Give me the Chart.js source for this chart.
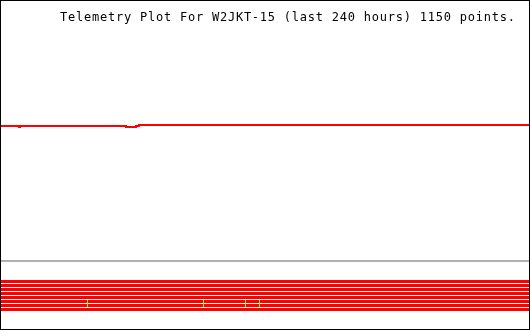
<!DOCTYPE html>
<html>
<head>
<meta charset="utf-8">
<script src="https://cdn.jsdelivr.net/npm/chart.js@4/dist/chart.umd.min.js"></script>
<style>
  html, body { margin: 0; padding: 0; background: #fff; }
  canvas { display: block; }
</style>
</head>
<body>
<canvas id="telemetry-chart" width="530" height="330"></canvas>
<script>
// x axis: hours into the 240 hour window, y axis: telemetry units
const titleText = 'Telemetry Plot For W2JKT-15 (last 240 hours) 1150 points.';

// main telemetry trace (stepped)
const traceHours  = [0, 8.6, 9.06, 57.06, 61.6, 62.9, 240];
const traceValues = [68.0, 67.67, 68.0, 67.67, 68.0, 68.33, 68.33];

// grey separator level
const separatorLevel = 23.0;

// channel bits band, one flat line per channel
const bitLevels = [16.17, 14.83, 13.5, 12.17, 10.83, 9.5, 8.17, 6.83];

// green marks on the bits band
const markHours = [39.6226, 92.1509, 111.1698, 117.5094];
const markTop = 10.0;
const markBottom = 7.67;

document.addEventListener('DOMContentLoaded', function() {
    const ctx = document.getElementById('telemetry-chart').getContext('2d');

    const markData = [];
    markHours.forEach(h => {
        markData.push({ x: h, y: markTop });
        markData.push({ x: h, y: markBottom });
        markData.push({ x: h, y: null });
    });

    const datasets = [{
        data: markData,
        borderColor: '#66ff33',
        borderWidth: 1,
        spanGaps: false
    }];

    bitLevels.forEach(level => {
        datasets.push({
            data: [{ x: 0, y: level }, { x: 240, y: level }],
            borderColor: '#ff0000',
            borderWidth: 3
        });
    });

    datasets.push({
        data: [{ x: 0, y: separatorLevel }, { x: 240, y: separatorLevel }],
        borderColor: '#b0b0b0',
        borderWidth: 2
    });

    datasets.push({
        data: traceHours.map((h, i) => ({ x: h, y: traceValues[i] })),
        borderColor: '#ff0000',
        borderWidth: 2,
        stepped: 'before'
    });

    const framePlugin = {
        id: 'frame',
        afterDraw(chart) {
            const c = chart.ctx;
            c.save();
            c.fillStyle = '#000';
            c.font = '12px "DejaVu Sans Mono", monospace';
            c.letterSpacing = '0.77px';
            c.textBaseline = 'alphabetic';
            c.fillText(titleText, 60, 21);
            c.strokeStyle = '#000';
            c.lineWidth = 1;
            c.strokeRect(0.5, 0.5, chart.width - 1, chart.height - 1);
            c.restore();
        }
    };

    new Chart(ctx, {
        type: 'line',
        data: { datasets: datasets },
        options: {
            responsive: false,
            animation: false,
            events: [],
            layout: { padding: 0 },
            elements: {
                point: { radius: 0 },
                line: { tension: 0, borderCapStyle: 'butt' }
            },
            plugins: {
                legend: { display: false },
                title: { display: false },
                tooltip: { enabled: false }
            },
            scales: {
                x: { type: 'linear', min: 0, max: 240, display: false },
                y: { type: 'linear', min: 0, max: 110, display: false }
            }
        },
        plugins: [framePlugin]
    });
});
</script>
</body>
</html>
